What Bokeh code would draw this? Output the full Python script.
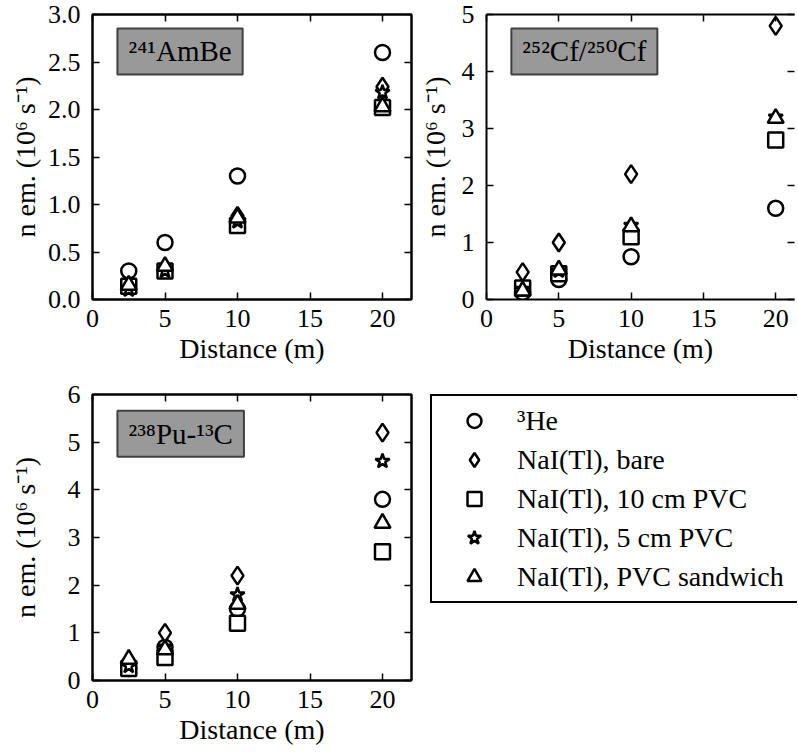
from bokeh.plotting import figure
from bokeh.models import (Range1d, LinearAxis, FixedTicker, PrintfTickFormatter,
                          CustomJSTickFormatter, Label, Legend, LegendItem)
from bokeh.layouts import row, column
from bokeh.embed import file_html
from bokeh.resources import INLINE

FONT = "Liberation Serif"
TITLE_FONT = "'Liberation Serif', 'DejaVu Serif'"
TICK_FS = "26px"
LABEL_FS = "28px"

# ---------------- data ----------------
distance = [2.5, 5, 10, 20]

ambe_he3 = [0.30, 0.60, 1.30, 2.60]
ambe_bare = [0.15, 0.32, 0.88, 2.24]
ambe_pvc10 = [0.14, 0.30, 0.78, 2.02]
ambe_pvc5 = [0.10, 0.30, 0.82, 2.18]
ambe_sandwich = [0.15, 0.35, 0.86, 2.03]

cf_he3 = [0.12, 0.35, 0.75, 1.60]
cf_bare = [0.48, 1.00, 2.20, 4.80]
cf_pvc10 = [0.20, 0.45, 1.10, 2.80]
cf_pvc5 = [0.18, 0.50, 1.30, 3.20]
cf_sandwich = [0.15, 0.52, 1.28, 3.18]

pu_he3 = [0.25, 0.70, 1.50, 3.80]
pu_bare = [0.30, 1.00, 2.20, 5.20]
pu_pvc10 = [0.25, 0.48, 1.20, 2.70]
pu_pvc5 = [0.30, 0.70, 1.80, 4.60]
pu_sandwich = [0.45, 0.65, 1.60, 3.30]

series_labels = ["³He", "NaI(Tl), bare", "NaI(Tl), 10 cm PVC",
                 "NaI(Tl), 5 cm PVC", "NaI(Tl), PVC sandwich"]
markers = ["circle", "diamond", "square", "star", "triangle"]
marker_sizes = [15, 18, 15, 15, 16]

x_ticks = [0, 5, 10, 15, 20]
ambe_ticks = [0, 0.5, 1.0, 1.5, 2.0, 2.5, 3.0]
cf_ticks = [0, 1, 2, 3, 4, 5]
pu_ticks = [0, 1, 2, 3, 4, 5, 6]

titles = ["²⁴¹AmBe", "²⁵²Cf/²⁵⁰Cf", "²³⁸Pu-¹³C"]
x_label = "Distance (m)"
y_label = "n em. (10⁶ s⁻¹)"


def style_axis(ax):
    ax.major_tick_in = 7
    ax.major_tick_out = 0
    ax.minor_tick_line_color = None
    ax.major_tick_line_width = 1.5
    ax.major_tick_line_color = "black"
    ax.axis_line_width = 2
    ax.axis_line_color = "black"
    ax.major_label_text_font = FONT
    ax.major_label_text_font_size = TICK_FS
    ax.major_label_text_color = "black"
    ax.axis_label_text_font = FONT
    ax.axis_label_text_font_size = LABEL_FS
    ax.axis_label_text_font_style = "normal"
    ax.axis_label_text_color = "black"


def make_panel(series, y_end, y_ticks, y_fmt, x_end, title, title_y,
               width, height, b_left, b_top, b_bottom, ylab_standoff,
               outline=True):
    p = figure(width=width, height=height,
               x_range=Range1d(0, x_end), y_range=Range1d(0, y_end),
               output_backend="svg", toolbar_location=None,
               min_border_left=b_left, min_border_right=3,
               min_border_top=b_top, min_border_bottom=b_bottom)
    p.grid.visible = False
    p.background_fill_color = "white"
    p.border_fill_color = "white"
    p.outline_line_color = "black" if outline else None
    p.outline_line_width = 2
    for vals, mk, sz in zip(series, markers, marker_sizes):
        p.scatter(distance, vals, marker=mk, size=sz, line_color="black",
                  line_width=2.5, fill_color="white")
    xa = p.xaxis[0]
    ya = p.yaxis[0]
    xa.ticker = FixedTicker(ticks=x_ticks)
    ya.ticker = FixedTicker(ticks=y_ticks)
    ya.formatter = PrintfTickFormatter(format=y_fmt)
    style_axis(xa)
    style_axis(ya)
    xa.axis_label = x_label
    ya.axis_label = y_label
    xa.major_label_standoff = 10
    ya.major_label_standoff = 12
    xa.axis_label_standoff = 3
    ya.axis_label_standoff = ylab_standoff

    top = LinearAxis(ticker=FixedTicker(ticks=x_ticks),
                     formatter=CustomJSTickFormatter(code="return ''"))
    right = LinearAxis(ticker=FixedTicker(ticks=y_ticks),
                       formatter=CustomJSTickFormatter(code="return ''"))
    for ax in (top, right):
        style_axis(ax)
        ax.major_label_text_font_size = "1px"
        ax.major_label_standoff = 0
    if not outline:
        right.axis_line_color = None
    p.add_layout(top, "above")
    p.add_layout(right, "right")

    lab = Label(x=1.72, y=title_y, text=title, text_font=TITLE_FONT,
                text_font_size="29px", text_color="black",
                text_align="left", text_baseline="top",
                background_fill_color="#999999", background_fill_alpha=1.0,
                border_line_color="#404040", border_line_width=2,
                padding={"left": 11, "right": 11, "top": 7, "bottom": 7})
    p.add_layout(lab)
    return p


p1 = make_panel([ambe_he3, ambe_bare, ambe_pvc10, ambe_pvc5, ambe_sandwich],
                3.0, ambe_ticks, "%.1f", 22, titles[0], 2.853,
                414, 374, 92, 14, 75, 4)
p2 = make_panel([cf_he3, cf_bare, cf_pvc10, cf_pvc5, cf_sandwich],
                5, cf_ticks, "%d", 21.3, titles[1], 4.755,
                383, 374, 72, 14, 75, 8, outline=False)
p3 = make_panel([pu_he3, pu_bare, pu_pvc10, pu_pvc5, pu_sandwich],
                6, pu_ticks, "%d", 22, titles[2], 5.66,
                414, 380, 92, 20, 74, 24)

# legend panel: same Pu-C series, kept outside this panel's visible ranges
p4 = figure(width=383, height=380, output_backend="svg", toolbar_location=None,
            x_axis_location=None, y_axis_location=None, min_border=0,
            min_border_left=16, title_location=None,
            x_range=Range1d(-2, -1), y_range=Range1d(-2, -1))
p4.outline_line_color = None
p4.grid.visible = False
p4.background_fill_color = "white"
p4.border_fill_color = "white"
items = []
for lbl, vals, mk in zip(series_labels,
                         [pu_he3, pu_bare, pu_pvc10, pu_pvc5, pu_sandwich],
                         markers):
    r = p4.scatter(distance, vals, marker=mk, size=14, line_color="black",
                   line_width=2.5, fill_color="white")
    items.append(LegendItem(label=lbl, renderers=[r]))
legend = Legend(items=items, location="top_left", margin=0, padding=7,
                spacing=4, glyph_width=70, glyph_height=35, label_height=35,
                label_width=282, label_standoff=8,
                label_text_font=FONT, label_text_font_size=LABEL_FS,
                label_text_color="black", label_text_baseline="middle",
                border_line_color="black", border_line_width=2,
                border_line_alpha=1.0,
                background_fill_color="white", background_fill_alpha=1.0)
p4.add_layout(legend)

layout = column(row(p1, p2), row(p3, p4))

with open("out.html", "w") as f:
    f.write(file_html(layout, INLINE))
